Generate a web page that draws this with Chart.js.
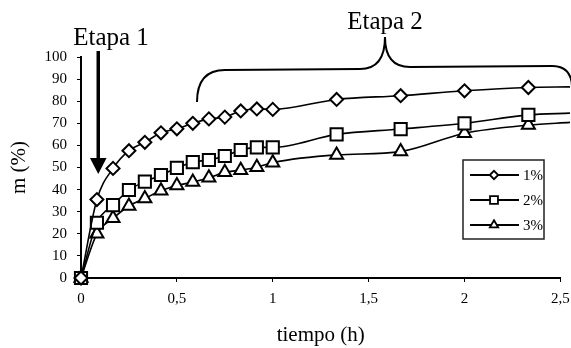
<!DOCTYPE html>
<html>
<head>
<meta charset="utf-8">
<script src="https://cdn.jsdelivr.net/npm/chart.js@4/dist/chart.umd.min.js"></script>
<style>
html,body{margin:0;padding:0;background:#fff;}
canvas{display:block;}
</style>
</head>
<body>
<canvas id="c" width="571" height="348"></canvas>
<script>
// ---- data ----
const tiempo = [0, 0.083, 0.167, 0.25, 0.333, 0.417, 0.5, 0.583, 0.667, 0.75, 0.833, 0.917, 1.0, 1.333, 1.667, 2.0, 2.333, 2.55];
const m1 = [0, 35.5, 49.6, 57.6, 61.4, 65.7, 67.5, 70, 72, 72.8, 75.6, 76.5, 76.3, 80.8, 82.5, 84.7, 86.2, 86.5];
const m2 = [0, 25, 33, 39.8, 43.6, 46.6, 49.8, 52.4, 53.4, 55.2, 57.9, 59.1, 59.1, 65, 67.4, 70, 73.8, 74.6];
const m3 = [0, 20, 27, 32.6, 36, 39.5, 41.8, 43.4, 45.4, 47.8, 48.8, 50.1, 52.2, 55.7, 57.2, 65.5, 69.2, 70.4];
const seriesLabels = ['1%', '2%', '3%'];
const xTicks = [0, 0.5, 1, 1.5, 2, 2.5];
const yTicks = [0, 10, 20, 30, 40, 50, 60, 70, 80, 90, 100];
const etapa1Label = 'Etapa 1';
const etapa2Label = 'Etapa 2';
const xTitle = 'tiempo (h)';
const yTitle = 'm (%)';

const FONT = '"Liberation Serif", "Times New Roman", serif';
const styles = [
  {pointStyle: 'rectRot', radius: 6.5, legendRadius: 4.2},
  {pointStyle: 'rect', radius: 8.6, legendRadius: 5.6},
  {pointStyle: 'triangle', radius: 7.5, legendRadius: 4.8}
];
const seriesValues = [m1, m2, m3];

const datasets = seriesValues.map((vals, i) => ({
  label: seriesLabels[i],
  data: tiempo.map((t, k) => ({x: t, y: vals[k]})),
  borderColor: '#000',
  borderWidth: 1.6,
  backgroundColor: '#fff',
  pointStyle: styles[i].pointStyle,
  pointRadius: ctx => ctx.dataIndex === tiempo.length - 1 ? 0 : styles[i].radius,
  pointBorderWidth: 2,
  pointBorderColor: '#000',
  pointBackgroundColor: '#fff',
  cubicInterpolationMode: 'monotone',
  clip: false,
  fill: false
}));

const overlay = {
  id: 'overlay',
  afterDraw(chart) {
    const ctx = chart.ctx;
    const xs = chart.scales.x;
    ctx.save();
    ctx.fillStyle = '#000';
    ctx.strokeStyle = '#000';
    // Etapa 1 label + arrow
    ctx.font = '25px ' + FONT;
    ctx.textAlign = 'center';
    ctx.textBaseline = 'alphabetic';
    const ax = xs.getPixelForValue(0.09);
    ctx.fillText(etapa1Label, 111, 45);
    ctx.lineWidth = 3.5;
    ctx.beginPath();
    ctx.moveTo(ax, 51);
    ctx.lineTo(ax, 160);
    ctx.stroke();
    ctx.beginPath();
    ctx.moveTo(ax - 8.3, 158);
    ctx.lineTo(ax + 8.3, 158);
    ctx.lineTo(ax, 174);
    ctx.closePath();
    ctx.fill();
    // Etapa 2 label + brace
    ctx.fillText(etapa2Label, 385, 29);
    ctx.lineWidth = 2;
    ctx.beginPath();
    ctx.moveTo(197, 102);
    ctx.quadraticCurveTo(197, 70, 225, 70);
    ctx.lineTo(360, 69);
    ctx.quadraticCurveTo(385, 69, 385, 37);
    ctx.quadraticCurveTo(385, 67, 410, 67);
    ctx.lineTo(552, 66);
    ctx.quadraticCurveTo(571, 66, 572, 86);
    ctx.stroke();
    // Legend box
    ctx.lineWidth = 1.5;
    ctx.strokeStyle = '#222';
    ctx.strokeRect(463, 160, 81, 79);
    ctx.strokeStyle = '#000';
    ctx.font = '15px ' + FONT;
    ctx.textAlign = 'left';
    ctx.textBaseline = 'middle';
    chart.data.datasets.forEach((ds, i) => {
      const y = 175 + i * 25;
      ctx.lineWidth = 2;
      ctx.beginPath();
      ctx.moveTo(470, y);
      ctx.lineTo(519, y);
      ctx.stroke();
      ctx.fillStyle = '#fff';
      ctx.lineWidth = 1.8;
      Chart.helpers.drawPoint(ctx, {pointStyle: styles[i].pointStyle, radius: styles[i].legendRadius, borderWidth: 1.8}, 494, y);
      ctx.fillStyle = '#000';
      ctx.fillText(ds.label, 523, y + 1);
    });
    ctx.restore();
  }
};

new Chart(document.getElementById('c'), {
  type: 'line',
  data: {datasets},
  options: {
    responsive: false,
    animation: false,
    devicePixelRatio: 1,
    layout: {padding: {top: 57, right: 10, left: 0, bottom: 0}},
    plugins: {legend: {display: false}, tooltip: {enabled: false}},
    scales: {
      x: {
        type: 'linear',
        min: 0, max: 2.5,
        afterFit(s) { s.height = 70; s.paddingRight = 0; s.paddingLeft = 0; },
        afterBuildTicks(s) { s.ticks = xTicks.map(v => ({value: v})); },
        ticks: {
          color: '#000',
          font: {family: FONT, size: 15},
          padding: 8,
          maxRotation: 0,
          callback: v => String(v).replace('.', ',')
        },
        grid: {drawOnChartArea: false, drawTicks: true, tickLength: 4, color: '#000', lineWidth: 1},
        border: {display: true, color: '#000', width: 2},
        title: {display: true, text: xTitle, color: '#000', font: {family: FONT, size: 21, lineHeight: 1}, padding: {top: 0, bottom: 2}}
      },
      y: {
        min: 0, max: 100,
        afterFit(s) { s.width = 81; s.paddingTop = 0; s.paddingBottom = 0; },
        afterBuildTicks(s) { s.ticks = yTicks.map(v => ({value: v})); },
        ticks: {
          color: '#000',
          font: {family: FONT, size: 15},
          padding: 10
        },
        grid: {drawOnChartArea: false, drawTicks: true, tickLength: 4, color: '#000', lineWidth: 1},
        border: {display: true, color: '#000', width: 2},
        title: {display: true, text: yTitle, color: '#000', font: {family: FONT, size: 21, lineHeight: 1}, padding: {top: 9, bottom: 0}}
      }
    }
  },
  plugins: [overlay]
});
</script>
</body>
</html>
